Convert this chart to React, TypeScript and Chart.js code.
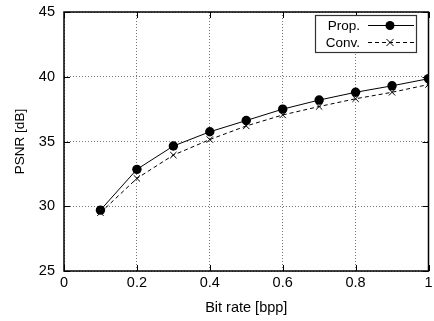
import React, { useEffect, useRef } from "react";
import { Chart, registerables } from "chart.js";

Chart.register(...registerables);

const bitRates = [0.1, 0.2, 0.3, 0.4, 0.5, 0.6, 0.7, 0.8, 0.9, 1.0];
const propPSNR = [29.7, 32.85, 34.65, 35.75, 36.62, 37.5, 38.2, 38.8, 39.3, 39.85];
const convPSNR = [29.5, 32.15, 33.95, 35.15, 36.2, 37.05, 37.7, 38.3, 38.8, 39.4];
const legendLabels = ["Prop.", "Conv."];
const xTitle = "Bit rate [bpp]";
const yTitle = "PSNR [dB]";

const FONT = "'Liberation Sans', Arial, sans-serif";

export default function App() {
  const ref = useRef<HTMLCanvasElement | null>(null);
  useEffect(() => {
    document.body.style.margin = "0";
    const canvas = ref.current!;
    const frame = {
      id: "frame",
      afterDatasetsDraw(chart: any) {
        const { ctx, chartArea: a, scales } = chart;
        ctx.save();
        ctx.strokeStyle = "#000";
        ctx.lineWidth = 1;
        const tl = 6;
        ctx.beginPath();
        scales.x.ticks.forEach((t: any) => {
          const px = Math.round(scales.x.getPixelForValue(t.value)) + 0.5;
          ctx.moveTo(px, a.bottom);
          ctx.lineTo(px, a.bottom - tl);
          ctx.moveTo(px, a.top);
          ctx.lineTo(px, a.top + tl);
        });
        scales.y.ticks.forEach((t: any) => {
          const py = Math.round(scales.y.getPixelForValue(t.value)) + 0.5;
          ctx.moveTo(a.left, py);
          ctx.lineTo(a.left + tl, py);
          ctx.moveTo(a.right, py);
          ctx.lineTo(a.right - tl, py);
        });
        ctx.stroke();
        ctx.lineWidth = 1.5;
        ctx.strokeRect(a.left, a.top, a.right - a.left, a.bottom - a.top);

        // legend
        const lx = 315, ly = 15, lw = 101, lh = 37;
        ctx.fillStyle = "#fff";
        ctx.fillRect(lx, ly, lw, lh);
        ctx.lineWidth = 1.2;
        ctx.strokeStyle = "#333";
        ctx.strokeRect(lx + 0.5, ly + 0.5, lw, lh);
        ctx.strokeStyle = "#000";
        ctx.font = `13.5px ${FONT}`;
        ctx.fillStyle = "#000";
        ctx.textBaseline = "middle";
        ctx.textAlign = "right";
        const rows = [ly + 10, ly + 27];
        chart.data.datasets.forEach((ds: any, i: number) => {
          const y = rows[i];
          ctx.fillText(legendLabels[i], 360, y + 1);
          ctx.beginPath();
          ctx.setLineDash(ds.borderDash || []);
          ctx.lineWidth = 1;
          ctx.moveTo(368, y + 0.5);
          ctx.lineTo(414, y + 0.5);
          ctx.stroke();
          ctx.setLineDash([]);
          const cx = 390;
          if (ds.pointStyle === "circle") {
            ctx.beginPath();
            ctx.arc(cx, y + 0.5, 4.5, 0, Math.PI * 2);
            ctx.fill();
          } else {
            ctx.beginPath();
            ctx.moveTo(cx - 3.5, y - 3);
            ctx.lineTo(cx + 3.5, y + 4);
            ctx.moveTo(cx + 3.5, y - 3);
            ctx.lineTo(cx - 3.5, y + 4);
            ctx.stroke();
          }
        });
        ctx.restore();
      },
    };
    const chart = new Chart(canvas, {
      type: "scatter",
      data: {
        datasets: [
          {
            label: legendLabels[0],
            data: bitRates.map((x, i) => ({ x, y: propPSNR[i] })),
            showLine: true,
            borderColor: "#000",
            backgroundColor: "#000",
            borderWidth: 1,
            pointStyle: "circle",
            pointRadius: 4.7,
            pointBorderWidth: 0,
          },
          {
            label: legendLabels[1],
            data: bitRates.map((x, i) => ({ x, y: convPSNR[i] })),
            showLine: true,
            borderColor: "#000",
            backgroundColor: "#000",
            borderWidth: 1,
            borderDash: [4, 3],
            pointStyle: "crossRot",
            pointRadius: 4.5,
            pointBorderWidth: 1,
          },
        ],
      },
      options: {
        animation: false,
        responsive: false,
        layout: { padding: { top: 12, right: 2, left: 0, bottom: 0 } },
        plugins: { legend: { display: false }, tooltip: { enabled: false } },
        scales: {
          x: {
            type: "linear",
            min: 0,
            max: 1,
            ticks: {
              stepSize: 0.2,
              color: "#000",
              font: { family: FONT, size: 14.5 },
              padding: 3,
              callback: (v: any) => String(Math.round(Number(v) * 10) / 10),
            },
            grid: { color: "#777", lineWidth: 1, drawTicks: false, tickLength: 0 },
            border: { display: false, dash: [1, 2] },
            title: {
              display: true,
              text: xTitle,
              color: "#000",
              font: { family: FONT, size: 14.5 },
              padding: { top: 2, bottom: 4 },
            },
            afterFit: (s: any) => {
              s.height = 50;
              s.paddingRight = 0;
              s.paddingLeft = 0;
            },
          },
          y: {
            min: 25,
            max: 45,
            ticks: {
              stepSize: 5,
              color: "#000",
              font: { family: FONT, size: 14.5 },
              padding: 9,
            },
            grid: { color: "#777", lineWidth: 1, drawTicks: false, tickLength: 0 },
            border: { display: false, dash: [1, 2] },
            title: {
              display: true,
              text: yTitle,
              color: "#000",
              font: { family: FONT, size: 13.5 },
              padding: { top: 12, bottom: 4 },
            },
            afterFit: (s: any) => {
              s.width = 64;
              s.paddingTop = 0;
              s.paddingBottom = 0;
            },
          },
        },
      },
      plugins: [frame],
    } as any);
    return () => chart.destroy();
  }, []);
  return <canvas ref={ref} width={434} height={321} />;
}
